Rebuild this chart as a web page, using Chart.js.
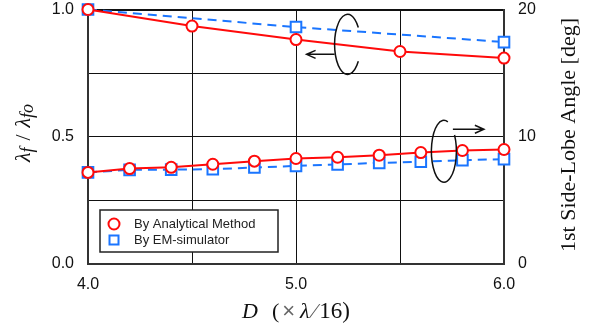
<!DOCTYPE html>
<html>
<head>
<meta charset="utf-8">
<script src="https://cdn.jsdelivr.net/npm/chart.js@4"></script>
<style>
  html, body { margin: 0; padding: 0; background: #fff; }
</style>
</head>
<body>
<canvas id="chart" width="609" height="331"></canvas>
<script>
// wavelength ratio (left axis)
const ratioD = [4.0, 4.5, 5.0, 5.5, 6.0];
const ratioAnalytical = [1.0, 0.935, 0.882, 0.835, 0.809];
const ratioEmD = [4.0, 5.0, 6.0];
const ratioEm = [1.0, 0.931, 0.872];

// 1st side-lobe angle (right axis, deg)
const angleD = [4.0, 4.2, 4.4, 4.6, 4.8, 5.0, 5.2, 5.4, 5.6, 5.8, 6.0];
const angleAnalytical = [7.2, 7.5, 7.6, 7.84, 8.08, 8.29, 8.39, 8.55, 8.76, 8.92, 9.0];
const angleEm = [7.2, 7.4, 7.42, 7.45, 7.58, 7.71, 7.82, 7.95, 8.03, 8.16, 8.24];

const legendLabels = ["By Analytical Method", "By EM-simulator"];

const RED = "#ff0a0a";
const BLUE = "#1a75ff";
const SANS = "'Liberation Sans', Arial, sans-serif";
const SERIF = "'Liberation Serif', 'Times New Roman', serif";

const pts = (xs, ys) => xs.map((x, i) => ({ x, y: ys[i] }));

// draws a run of text pieces (different fonts) centred at 0,0
function drawPieces(ctx, pieces) {
  let total = 0;
  pieces.forEach(p => { ctx.font = p.font; p.w = ctx.measureText(p.t).width; total += p.w + (p.gap || 0); });
  let x = -total / 2;
  pieces.forEach(p => {
    ctx.font = p.font;
    ctx.fillStyle = p.color || "#111";
    ctx.fillText(p.t, x, p.dy || 0);
    x += p.w + (p.gap || 0);
  });
}

function arrow(ctx, x1, y, x2) {
  const dir = Math.sign(x2 - x1);
  ctx.beginPath();
  ctx.moveTo(x1, y);
  ctx.lineTo(x2, y);
  ctx.moveTo(x2 - dir * 9, y - 4);
  ctx.lineTo(x2, y);
  ctx.lineTo(x2 - dir * 9, y + 4);
  ctx.stroke();
}

const extras = {
  id: "extras",
  afterDatasetsDraw(chart) {
    const { ctx, scales } = chart;
    const x = scales.x, y = scales.y;
    ctx.save();
    ctx.strokeStyle = "#111";
    ctx.lineWidth = 1.5;

    // upper rotation mark (points to left axis)
    let cx = x.getPixelForValue(5.248), cy = y.getPixelForValue(0.863);
    ctx.beginPath();
    ctx.ellipse(cx, cy, 13, 30, 0, 0.6, 2 * Math.PI - 0.6);
    ctx.stroke();
    arrow(ctx, cx - 13, cy + 10, cx - 41);

    // lower rotation mark (points to right axis)
    cx = x.getPixelForValue(5.711); cy = y.getPixelForValue(0.443);
    ctx.beginPath();
    ctx.ellipse(cx, cy, 12.5, 31, 0, -0.55, 2 * Math.PI - 1.25);
    ctx.stroke();
    arrow(ctx, cx + 9, cy - 22, cx + 40);
    ctx.restore();
  },
  afterDraw(chart) {
    const { ctx, chartArea } = chart;
    ctx.save();

    // legend box inside the plot
    const lx = chartArea.left + 12, ly = chartArea.bottom - 54;
    ctx.fillStyle = "#fff";
    ctx.fillRect(lx, ly, 178, 42);
    ctx.strokeStyle = "#222";
    ctx.lineWidth = 1.5;
    ctx.strokeRect(lx, ly, 178, 42);
    ctx.lineWidth = 2;
    ctx.strokeStyle = RED;
    ctx.beginPath();
    ctx.arc(lx + 14, ly + 14, 5.5, 0, 2 * Math.PI);
    ctx.fillStyle = "#fff";
    ctx.fill();
    ctx.stroke();
    ctx.strokeStyle = BLUE;
    ctx.strokeRect(lx + 9.5, ly + 25.5, 9, 9);
    ctx.fillStyle = "#222";
    ctx.font = "13px " + SANS;
    ctx.textBaseline = "middle";
    ctx.fillText(legendLabels[0], lx + 34, ly + 14);
    ctx.fillText(legendLabels[1], lx + 34, ly + 30);

    // axis titles
    ctx.textBaseline = "alphabetic";
    ctx.save();
    ctx.translate(296, 318);
    drawPieces(ctx, [
      { t: "D", font: "italic 22px " + SERIF, gap: 14 },
      { t: "(", font: "22px " + SERIF, gap: 3 },
      { t: "×", font: "22px " + SANS, color: "#666", gap: 5 },
      { t: "λ", font: "italic 22px " + SERIF, gap: 3 },
      { t: "⁄", font: "22px " + SERIF, color: "#555", gap: 3 },
      { t: "16)", font: "23px " + SERIF }
    ]);
    ctx.restore();

    ctx.save();
    ctx.translate(30, 133);
    ctx.rotate(-Math.PI / 2);
    drawPieces(ctx, [
      { t: "λ", font: "italic 22px " + SERIF },
      { t: "f", font: "italic 18px " + SERIF, dy: 3, gap: 7 },
      { t: "/", font: "22px " + SERIF, gap: 7 },
      { t: "λ", font: "italic 22px " + SERIF },
      { t: "fo", font: "italic 18px " + SERIF, dy: 3 }
    ]);
    ctx.restore();

    ctx.save();
    ctx.translate(575, 135);
    ctx.rotate(-Math.PI / 2);
    drawPieces(ctx, [{ t: "1st Side-Lobe Angle [deg]", font: "22px " + SERIF }]);
    ctx.restore();

    ctx.restore();
  }
};

// keep the plot area where the reference has it
const noPad = s => { s.paddingTop = 0; s.paddingBottom = 0; };

new Chart(document.getElementById("chart"), {
  type: "line",
  data: {
    datasets: [
      {
        data: pts(ratioD, ratioAnalytical), yAxisID: "y",
        borderColor: RED, borderWidth: 2, pointStyle: "circle", pointRadius: 5.5,
        pointBorderWidth: 2, pointBackgroundColor: "#fff", pointBorderColor: RED, clip: false
      },
      {
        data: pts(angleD, angleAnalytical), yAxisID: "y2",
        borderColor: RED, borderWidth: 2, pointStyle: "circle", pointRadius: 5.5,
        pointBorderWidth: 2, pointBackgroundColor: "#fff", pointBorderColor: RED, clip: false
      },
      {
        data: pts(ratioEmD, ratioEm), yAxisID: "y",
        borderColor: BLUE, borderWidth: 2, borderDash: [9, 6], pointStyle: "rect", pointRadius: 7.5,
        pointBorderWidth: 2, pointBackgroundColor: "#fff", pointBorderColor: BLUE, clip: false
      },
      {
        data: pts(angleD, angleEm), yAxisID: "y2",
        borderColor: BLUE, borderWidth: 2, borderDash: [9, 6], pointStyle: "rect", pointRadius: 7.5,
        pointBorderWidth: 2, pointBackgroundColor: "#fff", pointBorderColor: BLUE, clip: false
      }
    ]
  },
  options: {
    responsive: false,
    animation: false,
    layout: { padding: { top: 9, left: 0, right: 0, bottom: 0 } },
    plugins: { legend: { display: false }, tooltip: { enabled: false } },
    scales: {
      x: {
        type: "linear", min: 4, max: 6,
        ticks: {
          stepSize: 0.5, padding: 11, color: "#111", font: { family: SANS, size: 16 },
          maxRotation: 0, callback: v => Number.isInteger(v) ? v.toFixed(1) : ""
        },
        grid: { color: "#111", lineWidth: 1, drawTicks: false },
        border: { color: "#333", width: 2 },
        afterFit: s => { s.height = 67; s.paddingLeft = 0; s.paddingRight = 0; }
      },
      y: {
        position: "left", min: 0, max: 1,
        ticks: {
          stepSize: 0.25, padding: 14, color: "#111", font: { family: SANS, size: 16 },
          callback: v => (Math.round(v * 100) % 50 === 0) ? v.toFixed(1) : ""
        },
        grid: { color: "#111", lineWidth: c => c.tick && c.tick.value === 1 ? 2 : 1, drawTicks: false },
        border: { color: "#333", width: 2 },
        afterFit: s => { s.width = 88; noPad(s); }
      },
      y2: {
        position: "right", min: 0, max: 20,
        ticks: { stepSize: 10, padding: 14, color: "#111", font: { family: SANS, size: 16 } },
        grid: { display: false, drawTicks: false },
        border: { color: "#333", width: 2 },
        afterFit: s => { s.width = 105; noPad(s); }
      }
    }
  },
  plugins: [extras]
});
</script>
</body>
</html>
